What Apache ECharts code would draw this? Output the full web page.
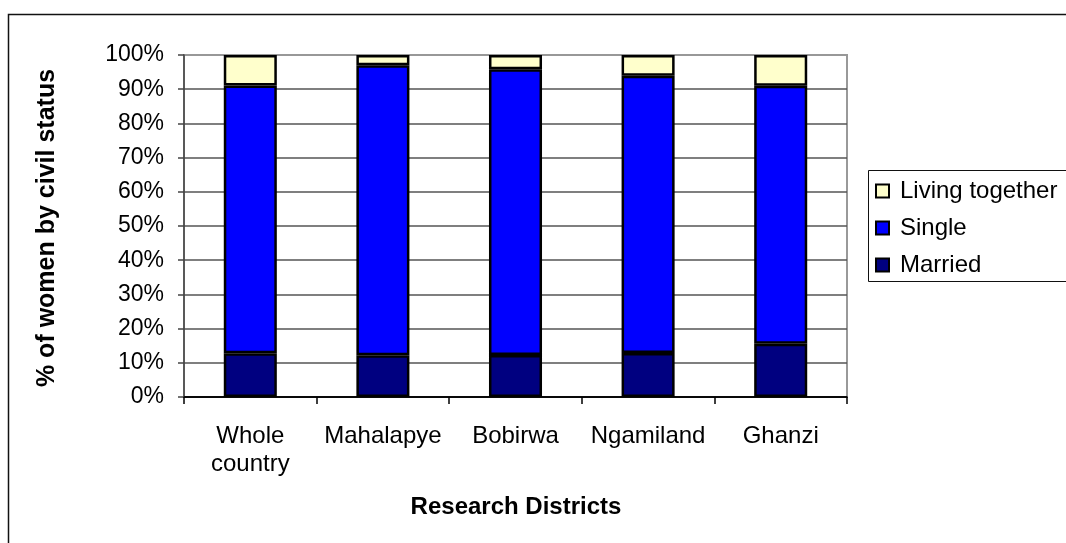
<!DOCTYPE html>
<html>
<head>
<meta charset="utf-8">
<script src="https://cdn.jsdelivr.net/npm/echarts@6/dist/echarts.min.js"></script>
<style>
  html, body { margin: 0; padding: 0; background: #fff; }
  #chart { width: 1066px; height: 543px; }
</style>
</head>
<body>
<div id="chart"></div>
<script>
// Civil status of women by research district (percent of women)
const districts = ['Whole\ncountry', 'Mahalapye', 'Bobirwa', 'Ngamiland', 'Ghanzi'];
const married = [12.8, 12.2, 12.3, 12.9, 15.6];
const single = [78.3, 84.8, 83.5, 81.0, 75.4];
const livingTogether = [8.9, 3.0, 4.2, 6.1, 9.0];
const legendOrder = ['Living together', 'Single', 'Married'];

const FONT = '"Liberation Sans", Arial, sans-serif';

const chart = echarts.init(document.getElementById('chart'), null, { renderer: 'canvas' });

const gridColors = ['#000', '#555', '#555', '#555', '#555', '#555', '#555', '#555', '#555', '#555', '#999'];

function barSeries(name, data, color) {
  return {
    name: name,
    type: 'bar',
    stack: 'total',
    data: data,
    barWidth: '40%',
    itemStyle: { color: color, borderColor: '#000', borderWidth: 2.5 },
    emphasis: { disabled: true },
    animation: false
  };
}

chart.setOption({
  animation: false,
  textStyle: { fontFamily: FONT },
  grid: {
    left: 184, right: 219, top: 55, bottom: 146,
    show: true, borderColor: '#999', borderWidth: 2, backgroundColor: '#fff'
  },
  legend: {
    data: legendOrder,
    orient: 'vertical',
    left: 875,
    top: 178,
    icon: 'rect',
    itemWidth: 13,
    itemHeight: 13,
    itemGap: 11,
    padding: 0,
    itemStyle: { borderColor: '#000', borderWidth: 2 },
    textStyle: { fontFamily: FONT, fontSize: 24, color: '#000', lineHeight: 26, padding: [0, 0, 0, 6] },
    selectedMode: false
  },
  xAxis: {
    type: 'category',
    data: districts,
    axisLine: { lineStyle: { color: '#000', width: 1.5 } },
    axisTick: { show: true, length: 7, alignWithLabel: false, lineStyle: { color: '#000', width: 1.5 } },
    axisLabel: { fontFamily: FONT, fontSize: 24, color: '#000', margin: 25, lineHeight: 28, interval: 0 },
    splitLine: { show: false }
  },
  yAxis: {
    type: 'value',
    min: 0,
    max: 100,
    interval: 10,
    axisLine: { show: true, lineStyle: { color: '#444', width: 1.5 } },
    axisTick: { show: true, length: 6, lineStyle: { color: '#444', width: 1.5 } },
    axisLabel: { fontFamily: FONT, fontSize: 23, color: '#000', margin: 20, formatter: '{value}%' },
    splitLine: { show: true, lineStyle: { color: gridColors, width: 1.5 } }
  },
  series: [
    barSeries('Married', married, '#000080'),
    barSeries('Single', single, '#0000FF'),
    barSeries('Living together', livingTogether, '#FFFFCC')
  ],
  graphic: [
    {
      type: 'rect', silent: true, z: -1,
      shape: { x: 8.5, y: 14.5, width: 1100, height: 600 },
      style: { fill: 'none', stroke: '#111', lineWidth: 1.5 }
    },
    {
      type: 'rect', silent: true, z: 0,
      shape: { x: 868.5, y: 170.5, width: 220, height: 111 },
      style: { fill: '#fff', stroke: '#111', lineWidth: 1 }
    },
    {
      type: 'text', silent: true,
      x: 47, y: 228, rotation: Math.PI / 2,
      style: {
        text: '% of women by civil status', fontFamily: FONT, fontSize: 25, fontWeight: 'bold',
        fill: '#000', align: 'center', verticalAlign: 'middle'
      }
    },
    {
      type: 'text', silent: true,
      x: 516, y: 507,
      style: {
        text: 'Research Districts', fontFamily: FONT, fontSize: 24, fontWeight: 'bold',
        fill: '#000', align: 'center', verticalAlign: 'middle'
      }
    }
  ]
});
</script>
</body>
</html>
